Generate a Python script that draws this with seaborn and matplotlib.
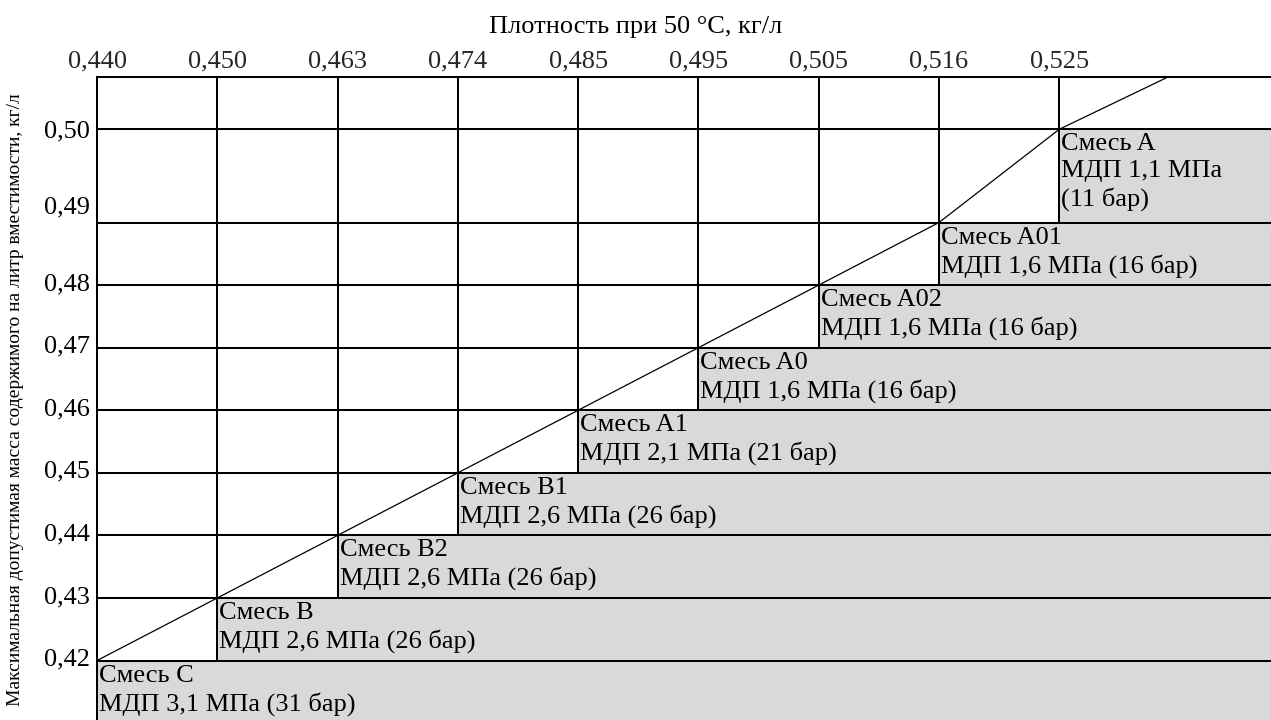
import matplotlib
matplotlib.use('Agg')

import numpy as np
import pandas as pd
import matplotlib.pyplot as plt
import seaborn as sns
from matplotlib.transforms import offset_copy, blended_transform_factory

# Step boundaries: density at 50 °C (kg/l) vs maximum permissible mass per litre (kg/l)
densities = [0.440, 0.450, 0.463, 0.474, 0.485, 0.495, 0.505, 0.516, 0.525]
max_mass = [0.42, 0.43, 0.44, 0.45, 0.46, 0.47, 0.48, 0.49, 0.50]
mixtures = ['C', 'B', 'B2', 'B1', 'A1', 'A0', 'A02', 'A01', 'A']
mdp_mpa = ['3,1', '2,6', '2,6', '2,6', '2,1', '1,6', '1,6', '1,6', '1,1']
mdp_bar = [31, 26, 26, 26, 21, 16, 16, 16, 11]
# the boundary line runs on past the last step
tail_density = 0.534
tail_mass = 0.5062

# layout: density columns are equally wide, the top mass row is taller
row_heights = [1, 1, 1, 1, 1, 1, 1, 1.49]
x_pos = np.arange(len(densities), dtype=float)
y_pos = np.concatenate([[0.0], np.cumsum(row_heights)])
tail_x = x_pos[-1] + (tail_density - densities[-1]) / (densities[-1] - densities[-2])
tail_y = y_pos[-1] + (tail_mass - max_mass[-1]) / 0.01 * row_heights[-1]

xmin, xmax = 0, 9.76
ymin, ymax = -0.95, 9.33

sns.set_theme(style='white')
plt.rcParams['font.family'] = ['Liberation Serif', 'DejaVu Serif']

fig = plt.figure(figsize=(12.71, 7.2), dpi=100)
ax = fig.add_axes([97 / 1271, 0, 1 - 97 / 1271, (720 - 76.7) / 720])
ax.set_xlim(xmin, xmax)
ax.set_ylim(ymin, ymax)

grey = '#d9d9d9'
lw = 1.45
fs = 19

# grey step regions with mixture captions
for i in range(len(mixtures)):
    bottom = y_pos[i - 1] if i > 0 else ymin
    top = y_pos[i]
    ax.fill_between([x_pos[i], xmax], bottom, top, color=grey, lw=0, zorder=1)
    if i == len(mixtures) - 1:
        label = f'Смесь {mixtures[i]}\nМДП {mdp_mpa[i]} МПа\n({mdp_bar[i]} бар)'
    else:
        label = f'Смесь {mixtures[i]}\nМДП {mdp_mpa[i]} МПа ({mdp_bar[i]} бар)'
    ax.text(x_pos[i], top, label, ha='left', va='top', fontsize=fs,
            linespacing=1.28, color='black', zorder=4,
            transform=offset_copy(ax.transData, fig=fig, x=2, y=-4, units='dots'))

# grid of the table
for i in range(len(max_mass)):
    ax.axhline(y_pos[i], color='black', lw=lw, zorder=2)
for i in range(1, len(densities)):
    ax.vlines(x_pos[i], y_pos[i - 1], ymax, color='black', lw=lw, zorder=2)

# boundary line
line_df = pd.DataFrame({'x': np.append(x_pos, tail_x), 'y': np.append(y_pos, tail_y)})
sns.lineplot(data=line_df, x='x', y='y', color='black', lw=0.9, estimator=None,
             sort=False, ax=ax, zorder=3)

for side in ['right', 'bottom']:
    ax.spines[side].set_visible(False)
for side in ['top', 'left']:
    ax.spines[side].set_linewidth(lw)
    ax.spines[side].set_color('black')

ax.xaxis.tick_top()
ax.set_xticks(x_pos)
ax.set_xticklabels([f'{d:.3f}'.replace('.', ',') for d in densities], fontsize=fs)
ax.tick_params(axis='x', length=0, pad=3)
ax.set_yticks([])
ax.set_xlabel('')
ax.set_ylabel('')

# mass labels on the left
nudge_px = [3.5, 3.5, 3.5, 3.5, 3.5, 3.5, 3.5, 18, 0.5]
ytrans = blended_transform_factory(ax.transAxes, ax.transData)
for m, yp, dy in zip(max_mass, y_pos, nudge_px):
    ax.text(0, yp, f'{m:.2f}'.replace('.', ','), ha='right', va='center_baseline',
            fontsize=fs, color='black',
            transform=offset_copy(ytrans, fig=fig, x=-7, y=dy, units='dots'))

fig.text(0.5, 1 - 33 / 720, 'Плотность при 50 °С, кг/л', ha='center', va='baseline',
         fontsize=fs, color='black')
fig.text(16 / 1271, 1 - 400 / 720,
         'Максимальная допустимая масса содержимого на литр вместимости, кг/л',
         rotation=90, ha='center', va='center', fontsize=14, color='black')

fig.savefig('out.png', dpi=100)
